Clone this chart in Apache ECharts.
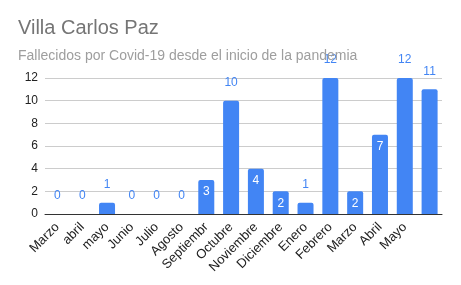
<!DOCTYPE html>
<html><head><meta charset="utf-8">
<script src="https://cdn.jsdelivr.net/npm/echarts@6/dist/echarts.min.js"></script>
<style>html,body{margin:0;padding:0;background:#fff}#c{width:461px;height:285px}</style>
</head><body><div id="c"></div>
<script>
const titleText = 'Villa Carlos Paz';
const subtitleText = 'Fallecidos por Covid-19 desde el inicio de la pandemia';
const categories = ['Marzo','abril','mayo','Junio','Julio','Agosto','Septiembr','Octubre','Noviembre','Diciembre','Enero','Febrero','Marzo','Abril','Mayo',''];
const deaths = [0,0,1,0,0,0,3,10,4,2,1,12,2,7,12,11];
const insideLabel = [false,false,false,false,false,false,true,false,true,true,false,false,true,true,false,false];
const yTicks = [0,2,4,6,8,10,12];

const blue = '#4285f4';
const data = deaths.map((v,i)=>({
  value: v,
  label: insideLabel[i]
    ? {position:'insideTop', distance:6, color:'#ffffff'}
    : {position:'top', distance:12, color:blue}
}));

const chart = echarts.init(document.getElementById('c'), null, {renderer:'canvas'});
chart.setOption({
  animation:false,
  backgroundColor:'#fff',
  title:[
    {text:titleText, left:13, top:13, textStyle:{fontFamily:'Arial, Liberation Sans', fontSize:20, fontWeight:'normal', color:'#757575'}},
    {text:subtitleText, left:13, top:44, textStyle:{fontFamily:'Arial, Liberation Sans', fontSize:14, fontWeight:'normal', color:'#9e9e9e'}}
  ],
  grid:{left:45, right:19, top:78, bottom:71, containLabel:false},
  xAxis:{
    type:'category', data:categories,
    axisLine:{lineStyle:{color:'#333', width:1}},
    axisTick:{show:false},
    axisLabel:{interval:0, rotate:45, margin:11, fontFamily:'Arial, Liberation Sans', fontSize:13, color:'#222'}
  },
  yAxis:{
    type:'value', min:yTicks[0], max:yTicks[yTicks.length-1], interval:2,
    axisLine:{show:false}, axisTick:{show:false},
    axisLabel:{margin:7, fontFamily:'Arial, Liberation Sans', fontSize:12, color:'#222'},
    splitLine:{lineStyle:{color:'#cccccc'}}
  },
  series:[{
    type:'bar', data:data, barWidth:16,
    itemStyle:{color:blue, borderRadius:[2,2,0,0]},
    label:{show:true, fontFamily:'Arial, Liberation Sans', fontSize:12}
  }]
});
</script></body></html>
